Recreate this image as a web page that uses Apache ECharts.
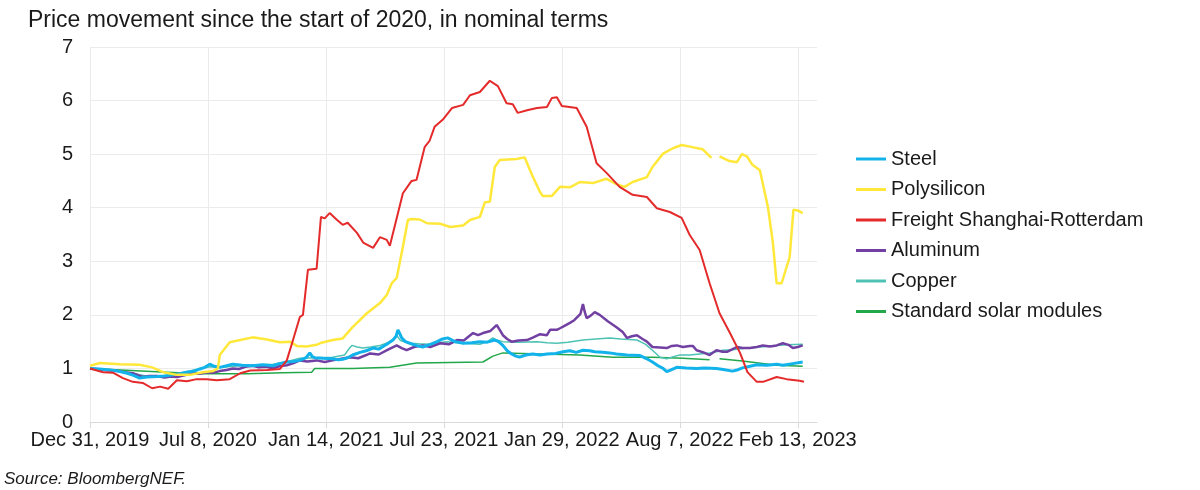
<!DOCTYPE html>
<html>
<head>
<meta charset="utf-8">
<script src="https://cdn.jsdelivr.net/npm/echarts@6/dist/echarts.min.js"></script>
<style>
  html, body { margin: 0; padding: 0; background: #ffffff; }
  #chart { width: 1200px; height: 490px; }
</style>
</head>
<body>
<div id="chart"></div>
<script>
// x values are days since Dec 31, 2019
const tickDays = [0, 190, 380, 570, 760, 950, 1140];
const tickLabels = ['Dec 31, 2019', 'Jul 8, 2020', 'Jan 14, 2021', 'Jul 23, 2021', 'Jan 29, 2022', 'Aug 7, 2022', 'Feb 13, 2023'];
const seriesNames = ['Steel', 'Polysilicon', 'Freight Shanghai-Rotterdam', 'Aluminum', 'Copper', 'Standard solar modules'];

const steel = [[0,1.0],[15,0.99],[32,0.97],[45,0.95],[60,0.91],[70,0.87],[80,0.82],[92,0.84],[108,0.85],[120,0.86],[134,0.88],[145,0.90],[156,0.93],[168,0.95],[177,0.99],[185,1.02],[193,1.08],[200,1.04],[209,1.02],[220,1.05],[230,1.08],[245,1.06],[262,1.05],[278,1.07],[295,1.05],[305,1.09],[317,1.12],[328,1.13],[338,1.15],[348,1.20],[354,1.29],[358,1.22],[362,1.20],[375,1.19],[391,1.18],[400,1.16],[407,1.17],[415,1.20],[423,1.25],[435,1.30],[445,1.33],[456,1.38],[465,1.36],[478,1.45],[488,1.53],[493,1.60],[496,1.72],[499,1.65],[502,1.57],[508,1.50],[515,1.47],[525,1.43],[536,1.40],[548,1.45],[559,1.50],[568,1.55],[576,1.57],[588,1.50],[601,1.47],[615,1.48],[628,1.50],[640,1.49],[652,1.53],[658,1.50],[665,1.43],[672,1.33],[679,1.27],[686,1.23],[692,1.21],[702,1.25],[713,1.27],[725,1.25],[736,1.27],[750,1.28],[762,1.31],[773,1.33],[783,1.30],[794,1.34],[805,1.33],[813,1.31],[826,1.30],[837,1.29],[848,1.27],[865,1.25],[886,1.24],[897,1.18],[906,1.12],[915,1.05],[923,1.00],[929,0.94],[935,0.97],[945,1.02],[960,1.01],[977,1.00],[990,1.01],[1009,1.00],[1020,0.98],[1035,0.95],[1042,0.97],[1051,1.01],[1063,1.04],[1074,1.07],[1090,1.06],[1106,1.08],[1116,1.06],[1132,1.09],[1148,1.12]];

const polysilicon = [[0,1.05],[16,1.10],[48,1.08],[80,1.07],[100,1.02],[118,0.93],[140,0.88],[161,0.88],[182,0.93],[198,0.95],[206,1.00],[209,1.25],[225,1.49],[242,1.53],[262,1.58],[285,1.54],[306,1.49],[322,1.50],[333,1.42],[349,1.41],[365,1.44],[373,1.48],[391,1.53],[407,1.56],[423,1.77],[446,2.03],[467,2.22],[478,2.37],[486,2.59],[494,2.69],[504,3.27],[512,3.77],[518,3.79],[531,3.78],[543,3.71],[564,3.70],[580,3.64],[601,3.67],[612,3.77],[628,3.83],[636,4.10],[644,4.11],[652,4.76],[660,4.89],[687,4.91],[700,4.94],[712,4.61],[725,4.29],[729,4.22],[744,4.22],[757,4.39],[773,4.38],[789,4.48],[810,4.46],[832,4.54],[848,4.44],[861,4.39],[874,4.48],[897,4.57],[906,4.76],[923,5.01],[939,5.11],[953,5.17],[966,5.14],[987,5.09],[1001,4.93],[1006,null],[1014,4.96],[1030,4.87],[1042,4.85],[1050,5.00],[1058,4.96],[1067,4.80],[1079,4.70],[1092,4.01],[1100,3.34],[1106,2.59],[1114,2.59],[1127,3.08],[1133,3.96],[1140,3.95],[1148,3.90]];

const freight = [[0,1.0],[21,0.93],[37,0.92],[53,0.82],[69,0.75],[85,0.73],[100,0.63],[113,0.66],[126,0.62],[140,0.78],[156,0.76],[172,0.80],[188,0.80],[204,0.78],[225,0.80],[242,0.91],[258,0.96],[285,0.97],[306,0.99],[317,1.15],[327,1.53],[338,1.96],[343,2.0],[351,2.84],[365,2.86],[372,3.83],[378,3.80],[386,3.90],[398,3.77],[407,3.68],[415,3.72],[430,3.53],[440,3.35],[456,3.25],[467,3.45],[478,3.40],[483,3.29],[504,4.27],[518,4.50],[526,4.52],[539,5.13],[547,5.25],[555,5.51],[568,5.64],[583,5.86],[601,5.92],[612,6.10],[628,6.16],[644,6.37],[657,6.27],[671,5.95],[681,5.93],[689,5.77],[704,5.82],[720,5.86],[736,5.88],[744,6.05],[752,6.06],[760,5.90],[784,5.86],[800,5.51],[816,4.83],[832,4.65],[853,4.39],[874,4.24],[897,4.20],[913,3.99],[934,3.92],[953,3.81],[966,3.49],[982,3.21],[998,2.59],[1014,2.03],[1030,1.68],[1047,1.29],[1059,0.93],[1074,0.75],[1084,0.75],[1106,0.84],[1122,0.80],[1143,0.77],[1150,0.75]];

const aluminum = [[0,1.0],[10,0.99],[20,0.97],[32,0.96],[45,0.95],[55,0.93],[69,0.91],[78,0.87],[85,0.84],[95,0.86],[108,0.86],[120,0.83],[130,0.85],[140,0.84],[152,0.87],[166,0.91],[176,0.90],[188,0.93],[198,0.92],[209,0.95],[220,0.97],[230,1.00],[240,0.99],[250,1.03],[262,1.05],[272,1.02],[285,1.03],[295,1.00],[305,1.04],[317,1.06],[328,1.10],[338,1.15],[350,1.13],[365,1.15],[378,1.12],[391,1.15],[405,1.18],[419,1.21],[432,1.19],[445,1.25],[451,1.28],[465,1.26],[480,1.35],[494,1.43],[502,1.38],[510,1.34],[522,1.40],[536,1.43],[548,1.40],[564,1.47],[578,1.45],[591,1.53],[602,1.52],[617,1.66],[625,1.62],[633,1.66],[645,1.70],[655,1.81],[660,1.72],[665,1.62],[672,1.55],[679,1.50],[690,1.52],[704,1.53],[714,1.58],[725,1.64],[736,1.62],[741,1.72],[752,1.72],[757,1.75],[765,1.80],[773,1.85],[780,1.90],[786,1.97],[790,2.02],[794,2.20],[797,2.05],[800,1.94],[806,1.98],[813,2.05],[821,2.00],[834,1.88],[848,1.77],[858,1.68],[865,1.57],[873,1.60],[881,1.62],[890,1.55],[897,1.50],[906,1.40],[918,1.39],[929,1.38],[937,1.42],[945,1.43],[955,1.40],[966,1.42],[971,1.42],[977,1.34],[988,1.30],[998,1.25],[1009,1.34],[1019,1.31],[1026,1.31],[1035,1.36],[1042,1.40],[1051,1.38],[1063,1.38],[1074,1.40],[1084,1.43],[1095,1.41],[1106,1.43],[1116,1.47],[1125,1.44],[1132,1.38],[1140,1.40],[1148,1.43]];

const copper = [[0,1.0],[20,0.98],[45,0.95],[69,0.91],[90,0.86],[108,0.84],[125,0.87],[140,0.90],[160,0.95],[177,1.00],[195,1.03],[215,1.02],[230,1.04],[260,1.06],[295,1.08],[315,1.12],[338,1.19],[365,1.20],[391,1.21],[410,1.25],[418,1.38],[422,1.43],[430,1.40],[440,1.38],[452,1.40],[467,1.43],[480,1.48],[490,1.55],[494,1.62],[500,1.52],[515,1.47],[530,1.46],[547,1.45],[560,1.48],[575,1.50],[590,1.48],[601,1.47],[615,1.46],[628,1.45],[640,1.50],[649,1.57],[655,1.53],[665,1.50],[690,1.49],[720,1.50],[736,1.48],[752,1.47],[770,1.49],[794,1.53],[815,1.55],[837,1.57],[855,1.55],[881,1.53],[895,1.45],[906,1.34],[918,1.21],[929,1.18],[940,1.22],[950,1.25],[966,1.25],[982,1.27],[998,1.29],[1009,1.31],[1019,1.34],[1035,1.35],[1058,1.38],[1080,1.40],[1106,1.43],[1122,1.44],[1148,1.45]];

const solarModules = [[0,1.0],[124,0.93],[177,0.90],[253,0.90],[311,0.92],[357,0.93],[362,1.00],[423,1.00],[483,1.02],[526,1.10],[633,1.12],[649,1.23],[665,1.29],[789,1.25],[842,1.21],[906,1.21],[955,1.19],[998,1.16],[1006,null],[1014,1.18],[1051,1.14],[1106,1.06],[1148,1.04]];

const seriesData = [steel, polysilicon, freight, aluminum, copper, solarModules];
const seriesColors = ['#12B2EA', '#FFE83A', '#E42A2A', '#7140A2', '#4EC2B4', '#22A84A'];
const seriesWidths = [3, 2.5, 2, 2.5, 1.5, 1.5];
const drawOrder = [5, 4, 3, 0, 1, 2];

const chart = echarts.init(document.getElementById('chart'));
const FONT = 'Liberation Sans, Arial, sans-serif';

const series = drawOrder.map(function (i) {
  return {
    name: seriesNames[i],
    type: 'line',
    data: seriesData[i],
    symbol: 'none',
    showSymbol: false,
    connectNulls: false,
    lineStyle: { color: seriesColors[i], width: seriesWidths[i] },
    itemStyle: { color: seriesColors[i] },
    emphasis: { disabled: true },
    z: 2
  };
});

chart.setOption({
  animation: false,
  backgroundColor: '#ffffff',
  title: {
    text: 'Price movement since the start of 2020, in nominal terms',
    left: 23, top: 4,
    textStyle: { fontFamily: FONT, fontSize: 23, fontWeight: 'normal', color: '#1a1a1a' }
  },
  graphic: [{
    type: 'text', left: 4, top: 471,
    style: { text: 'Source: BloombergNEF.', fontFamily: FONT, fontSize: 17, fontStyle: 'italic', fill: '#1a1a1a' }
  }],
  legend: {
    orient: 'vertical',
    left: 851, top: 144,
    icon: 'rect',
    itemWidth: 30, itemHeight: 3, itemGap: 10.5,
    data: seriesNames,
    textStyle: { fontFamily: FONT, fontSize: 20, color: '#1a1a1a' },
    selectedMode: false
  },
  grid: { left: 90, right: 383, top: 47, bottom: 68, containLabel: false },
  xAxis: {
    type: 'value',
    min: 0, max: 1171, interval: 190,
    axisLine: { show: true, lineStyle: { color: '#d9d9d9', width: 1 } },
    axisTick: { show: true, length: 6, customValues: tickDays, lineStyle: { color: '#d9d9d9' } },
    axisLabel: {
      customValues: tickDays,
      fontFamily: FONT, fontSize: 20, color: '#1a1a1a', margin: 8,
      formatter: function (v) { const k = tickDays.indexOf(v); return k >= 0 ? tickLabels[k] : ''; }
    },
    splitLine: { show: true, lineStyle: { color: '#ebebeb', width: 1 } }
  },
  yAxis: {
    type: 'value', min: 0, max: 7, interval: 1,
    axisLine: { show: false }, axisTick: { show: false },
    axisLabel: { fontFamily: FONT, fontSize: 20, color: '#1a1a1a', margin: 17 },
    splitLine: { show: true, lineStyle: { color: '#ebebeb', width: 1 } }
  },
  series: series
});
</script>
</body>
</html>
